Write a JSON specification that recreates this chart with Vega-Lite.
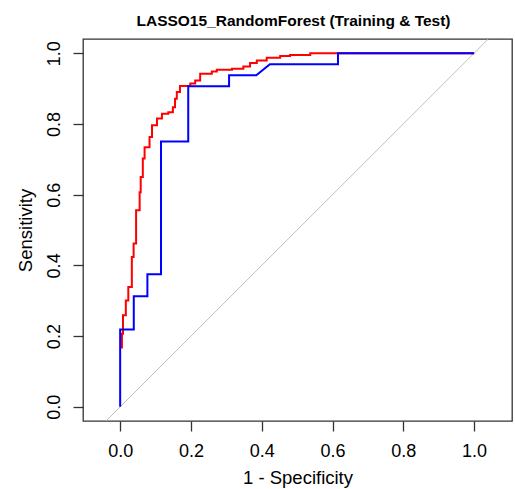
{
  "$schema": "https://vega.github.io/schema/vega-lite/v6.json",
  "autosize": "none",
  "width": 429,
  "height": 382,
  "padding": {"left": 83, "top": 39, "right": 3, "bottom": 68},
  "background": "white",
  "title": {
    "text": "LASSO15_RandomForest (Training & Test)",
    "font": "Liberation Sans",
    "fontSize": 15.5,
    "fontWeight": "bold",
    "color": "#000000",
    "anchor": "middle",
    "baseline": "alphabetic",
    "offset": 15,
    "dy": 17,
    "dx": -4
  },
  "config": {
    "view": {"stroke": "#333333", "strokeWidth": 1.3},
    "axis": {
      "labelFont": "Liberation Sans",
      "titleFont": "Liberation Sans",
      "labelFontSize": 18,
      "titleFontSize": 18.5,
      "titleFontWeight": "normal",
      "labelColor": "#000000",
      "titleColor": "#000000",
      "tickColor": "#333333",
      "tickSize": 10,
      "tickWidth": 1.3,
      "domain": false,
      "grid": false
    }
  },
  "datasets": {
    "roc": [
      {"set": "Training", "i": 1, "fpr": 0.005, "tpr": 0.165},
      {"set": "Training", "i": 2, "fpr": 0.005, "tpr": 0.207},
      {"set": "Training", "i": 3, "fpr": 0.008, "tpr": 0.207},
      {"set": "Training", "i": 4, "fpr": 0.008, "tpr": 0.259},
      {"set": "Training", "i": 5, "fpr": 0.016, "tpr": 0.259},
      {"set": "Training", "i": 6, "fpr": 0.016, "tpr": 0.301},
      {"set": "Training", "i": 7, "fpr": 0.023, "tpr": 0.301},
      {"set": "Training", "i": 8, "fpr": 0.023, "tpr": 0.339},
      {"set": "Training", "i": 9, "fpr": 0.033, "tpr": 0.339},
      {"set": "Training", "i": 10, "fpr": 0.033, "tpr": 0.424},
      {"set": "Training", "i": 11, "fpr": 0.038, "tpr": 0.424},
      {"set": "Training", "i": 12, "fpr": 0.038, "tpr": 0.462},
      {"set": "Training", "i": 13, "fpr": 0.045, "tpr": 0.462},
      {"set": "Training", "i": 14, "fpr": 0.045, "tpr": 0.556},
      {"set": "Training", "i": 15, "fpr": 0.055, "tpr": 0.556},
      {"set": "Training", "i": 16, "fpr": 0.055, "tpr": 0.607},
      {"set": "Training", "i": 17, "fpr": 0.058, "tpr": 0.607},
      {"set": "Training", "i": 18, "fpr": 0.058, "tpr": 0.650},
      {"set": "Training", "i": 19, "fpr": 0.064, "tpr": 0.650},
      {"set": "Training", "i": 20, "fpr": 0.064, "tpr": 0.702},
      {"set": "Training", "i": 21, "fpr": 0.069, "tpr": 0.702},
      {"set": "Training", "i": 22, "fpr": 0.069, "tpr": 0.734},
      {"set": "Training", "i": 23, "fpr": 0.083, "tpr": 0.734},
      {"set": "Training", "i": 24, "fpr": 0.083, "tpr": 0.763},
      {"set": "Training", "i": 25, "fpr": 0.090, "tpr": 0.763},
      {"set": "Training", "i": 26, "fpr": 0.090, "tpr": 0.796},
      {"set": "Training", "i": 27, "fpr": 0.104, "tpr": 0.796},
      {"set": "Training", "i": 28, "fpr": 0.104, "tpr": 0.815},
      {"set": "Training", "i": 29, "fpr": 0.118, "tpr": 0.815},
      {"set": "Training", "i": 30, "fpr": 0.118, "tpr": 0.829},
      {"set": "Training", "i": 31, "fpr": 0.136, "tpr": 0.829},
      {"set": "Training", "i": 32, "fpr": 0.136, "tpr": 0.833},
      {"set": "Training", "i": 33, "fpr": 0.149, "tpr": 0.833},
      {"set": "Training", "i": 34, "fpr": 0.149, "tpr": 0.847},
      {"set": "Training", "i": 35, "fpr": 0.155, "tpr": 0.847},
      {"set": "Training", "i": 36, "fpr": 0.155, "tpr": 0.871},
      {"set": "Training", "i": 37, "fpr": 0.160, "tpr": 0.871},
      {"set": "Training", "i": 38, "fpr": 0.160, "tpr": 0.890},
      {"set": "Training", "i": 39, "fpr": 0.169, "tpr": 0.890},
      {"set": "Training", "i": 40, "fpr": 0.169, "tpr": 0.907},
      {"set": "Training", "i": 41, "fpr": 0.198, "tpr": 0.907},
      {"set": "Training", "i": 42, "fpr": 0.198, "tpr": 0.914},
      {"set": "Training", "i": 43, "fpr": 0.212, "tpr": 0.914},
      {"set": "Training", "i": 44, "fpr": 0.212, "tpr": 0.923},
      {"set": "Training", "i": 45, "fpr": 0.226, "tpr": 0.923},
      {"set": "Training", "i": 46, "fpr": 0.226, "tpr": 0.942},
      {"set": "Training", "i": 47, "fpr": 0.259, "tpr": 0.942},
      {"set": "Training", "i": 48, "fpr": 0.259, "tpr": 0.948},
      {"set": "Training", "i": 49, "fpr": 0.273, "tpr": 0.948},
      {"set": "Training", "i": 50, "fpr": 0.273, "tpr": 0.953},
      {"set": "Training", "i": 51, "fpr": 0.316, "tpr": 0.953},
      {"set": "Training", "i": 52, "fpr": 0.316, "tpr": 0.956},
      {"set": "Training", "i": 53, "fpr": 0.348, "tpr": 0.956},
      {"set": "Training", "i": 54, "fpr": 0.348, "tpr": 0.962},
      {"set": "Training", "i": 55, "fpr": 0.367, "tpr": 0.962},
      {"set": "Training", "i": 56, "fpr": 0.367, "tpr": 0.972},
      {"set": "Training", "i": 57, "fpr": 0.386, "tpr": 0.972},
      {"set": "Training", "i": 58, "fpr": 0.386, "tpr": 0.979},
      {"set": "Training", "i": 59, "fpr": 0.414, "tpr": 0.979},
      {"set": "Training", "i": 60, "fpr": 0.414, "tpr": 0.987},
      {"set": "Training", "i": 61, "fpr": 0.452, "tpr": 0.987},
      {"set": "Training", "i": 62, "fpr": 0.452, "tpr": 0.992},
      {"set": "Training", "i": 63, "fpr": 0.480, "tpr": 0.992},
      {"set": "Training", "i": 64, "fpr": 0.480, "tpr": 0.995},
      {"set": "Training", "i": 65, "fpr": 0.537, "tpr": 0.995},
      {"set": "Training", "i": 66, "fpr": 0.537, "tpr": 1.0},
      {"set": "Training", "i": 67, "fpr": 1.0, "tpr": 1.0},
      {"set": "Test", "i": 1, "fpr": 0.0, "tpr": 0.0},
      {"set": "Test", "i": 2, "fpr": 0.0, "tpr": 0.21875},
      {"set": "Test", "i": 3, "fpr": 0.03846, "tpr": 0.21875},
      {"set": "Test", "i": 4, "fpr": 0.03846, "tpr": 0.3125},
      {"set": "Test", "i": 5, "fpr": 0.07692, "tpr": 0.3125},
      {"set": "Test", "i": 6, "fpr": 0.07692, "tpr": 0.375},
      {"set": "Test", "i": 7, "fpr": 0.11538, "tpr": 0.375},
      {"set": "Test", "i": 8, "fpr": 0.11538, "tpr": 0.75},
      {"set": "Test", "i": 9, "fpr": 0.19231, "tpr": 0.75},
      {"set": "Test", "i": 10, "fpr": 0.19231, "tpr": 0.90625},
      {"set": "Test", "i": 11, "fpr": 0.30769, "tpr": 0.90625},
      {"set": "Test", "i": 12, "fpr": 0.30769, "tpr": 0.9375},
      {"set": "Test", "i": 13, "fpr": 0.38462, "tpr": 0.9375},
      {"set": "Test", "i": 14, "fpr": 0.42308, "tpr": 0.96875},
      {"set": "Test", "i": 15, "fpr": 0.61538, "tpr": 0.96875},
      {"set": "Test", "i": 16, "fpr": 0.61538, "tpr": 1.0},
      {"set": "Test", "i": 17, "fpr": 1.0, "tpr": 1.0}
    ],
    "diag": [
      {"fpr": -0.04, "tpr": -0.04},
      {"fpr": 1.04, "tpr": 1.04}
    ]
  },
  "encoding": {
    "x": {
      "field": "fpr",
      "type": "quantitative",
      "scale": {"domain": [-0.105, 1.107], "nice": false, "zero": false},
      "axis": {
        "title": "1 - Specificity",
        "values": [0, 0.2, 0.4, 0.6, 0.8, 1.0],
        "format": ".1f",
        "labelPadding": 11,
        "titlePadding": 8,
        "labelFlush": false,
        "labelOverlap": false
      }
    },
    "y": {
      "field": "tpr",
      "type": "quantitative",
      "scale": {"domain": [-0.04, 1.04], "nice": false, "zero": false},
      "axis": {
        "title": "Sensitivity",
        "values": [0, 0.2, 0.4, 0.6, 0.8, 1.0],
        "format": ".1f",
        "labelAngle": -90,
        "labelAlign": "center",
        "labelBaseline": "bottom",
        "labelPadding": 10,
        "titlePadding": 10,
        "labelFlush": false,
        "labelOverlap": false
      }
    }
  },
  "layer": [
    {
      "data": {"name": "diag"},
      "mark": {"type": "line", "color": "#BEBEBE", "strokeWidth": 1, "clip": true},
      "encoding": {}
    },
    {
      "data": {"name": "roc"},
      "transform": [{"filter": "datum.set === 'Training'"}],
      "mark": {"type": "line", "color": "#FF0000", "strokeWidth": 2},
      "encoding": {"order": {"field": "i", "type": "quantitative"}}
    },
    {
      "data": {"name": "roc"},
      "transform": [{"filter": "datum.set === 'Test'"}],
      "mark": {"type": "line", "color": "#0000FF", "strokeWidth": 2},
      "encoding": {"order": {"field": "i", "type": "quantitative"}}
    }
  ]
}
